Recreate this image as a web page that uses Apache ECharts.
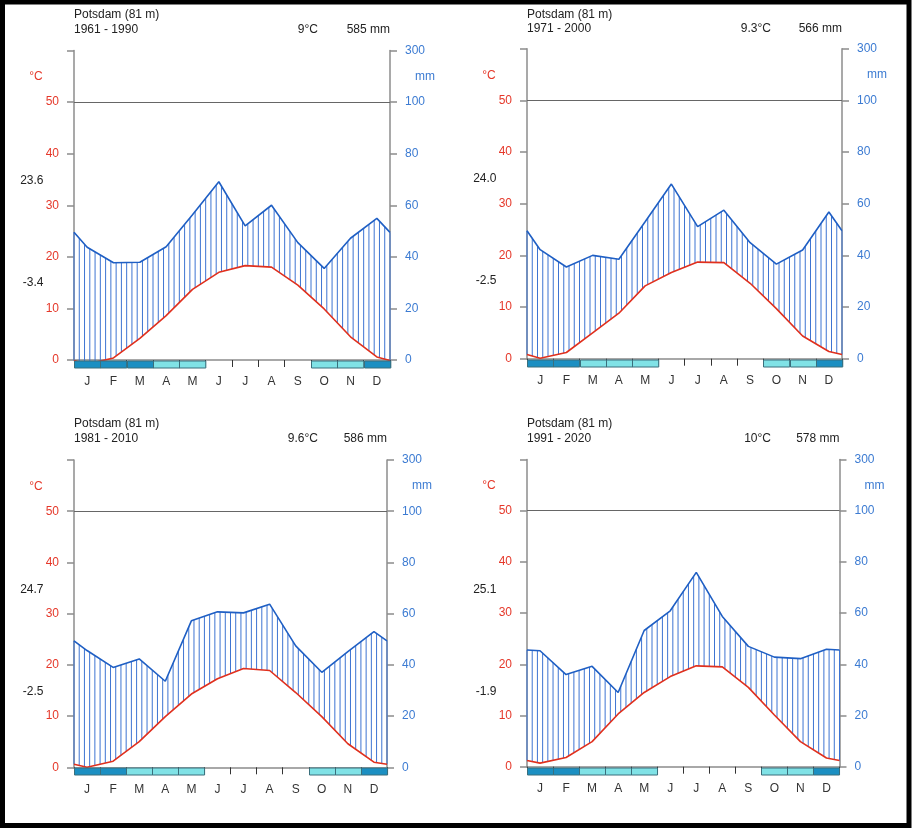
<!DOCTYPE html>
<html>
<head>
<meta charset="utf-8">
<script src="https://cdn.jsdelivr.net/npm/echarts@6/dist/echarts.min.js"></script>
<style>
html,body{margin:0;padding:0;background:#fff;}
#chart{width:912px;height:828px;}
</style>
</head>
<body>
<div id="chart"></div>
<script>
// ---------- data ----------
const months = ['J','F','M','A','M','J','J','A','S','O','N','D'];
const station = 'Potsdam (81 m)';
const periods = ['1961 - 1990','1971 - 2000','1981 - 2010','1991 - 2020'];
const meanTemps = ['9°C','9.3°C','9.6°C','10°C'];
const annualPrec = ['585 mm','566 mm','586 mm','578 mm'];
const maxWarmest = ['23.6','24.0','24.7','25.1'];
const minColdest = ['-3.4','-2.5','-2.5','-1.9'];

const temp6190 = [-0.8, 0.4, 4.2, 8.6, 13.7, 17.0, 18.3, 18.0, 14.5, 9.9, 4.5, 0.6];
const prec6190 = [43.7, 37.7, 37.9, 43.9, 56.3, 69.1, 52.0, 60.0, 45.5, 35.5, 47.2, 54.9];
const temp7100 = [0.1, 1.2, 5.0, 8.8, 14.1, 16.7, 18.7, 18.6, 14.6, 9.7, 4.4, 1.4];
const prec7100 = [42.2, 35.5, 40.0, 38.5, 53.0, 67.6, 51.1, 57.5, 44.9, 36.6, 42.1, 56.8];
const temp8110 = [0.0, 1.2, 5.0, 9.9, 14.3, 17.3, 19.3, 18.9, 14.6, 9.9, 4.6, 1.0];
const prec8110 = [45.6, 39.0, 42.3, 33.6, 57.2, 60.7, 60.3, 63.7, 47.4, 37.1, 45.2, 53.0];
const temp9120 = [0.7, 1.8, 4.9, 10.3, 14.5, 17.6, 19.7, 19.5, 15.5, 10.1, 4.9, 1.7];
const prec9120 = [45.3, 36.0, 39.2, 29.0, 53.2, 60.9, 75.9, 58.7, 47.0, 42.8, 42.2, 45.9];
// values drawn at the left and right edges of each diagram
const tempEdge = [-0.1, 0.8, 0.6, 1.2];
const precEdge = [49.5, 49.5, 49.4, 45.6];
// frost: 2 = dark (cold month), 1 = light (possible frost), 0 = none
const frost6190 = [2,2,2,1,1,0,0,0,0,1,1,2];
const frost7100 = [2,2,1,1,1,0,0,0,0,1,1,2];
const frost8110 = [2,2,1,1,1,0,0,0,0,1,1,2];
const frost9120 = [2,2,1,1,1,0,0,0,0,1,1,2];

// left axis: 0..60 (°C), right axis 0..120 (mm), 120 labelled 300
const tempTicks = ['0','10','20','30','40','50',''];
const precTicks = ['0','20','40','60','80','100','300'];

const temps = [temp6190, temp7100, temp8110, temp9120];
const precs = [prec6190, prec7100, prec8110, prec9120];
const frosts = [frost6190, frost7100, frost8110, frost9120];

// ---------- layout / style ----------
const FONT = "'Liberation Sans', Arial, Helvetica, sans-serif";
const RED = '#e5382a', BLUE = '#3c7bd2', LINEBLUE = '#1f5fc4', TLINE = '#e0301e';
const AXISGRAY = '#8c8c8c';
const grids = [
  {left: 74, top: 50.5, width: 316, height: 309.5},
  {left: 527, top: 48.7, width: 315, height: 310},
  {left: 74, top: 460, width: 313, height: 307.3},
  {left: 527, top: 459.5, width: 312.5, height: 307.2}
];
const titleY = [[14.5, 29.5], [14.5, 28.5], [424, 438.5], [424, 439]];
const LMAX = 60, RMAX = 120;

const chart = echarts.init(document.getElementById('chart'), null, {renderer: 'canvas'});

const option = {
  animation: false,
  textStyle: {fontFamily: FONT},
  grid: [], xAxis: [], yAxis: [], series: [], graphic: []
};

option.graphic.push({
  type: 'rect', shape: {x: 2.5, y: 2, width: 906.5, height: 823.5},
  style: {fill: 'none', stroke: '#000', lineWidth: 5}, z: 100
});

grids.forEach((g, p) => {
  option.grid.push(Object.assign({containLabel: false}, g));
  const xc = 2 * p, xv = 2 * p + 1, yl = 2 * p, yr = 2 * p + 1;
  option.xAxis.push({
    type: 'category', gridIndex: p, data: months, boundaryGap: true, position: 'bottom',
    axisLine: {show: true, lineStyle: {color: AXISGRAY, width: 1.5}},
    axisTick: {show: true, length: 7, lineStyle: {color: '#333', width: 1}},
    axisLabel: {color: '#333', fontSize: 12, margin: 16, fontFamily: FONT},
    splitLine: {show: false}
  });
  option.xAxis.push({type: 'value', gridIndex: p, min: 0, max: 12, show: false});
  option.yAxis.push({
    type: 'value', gridIndex: p, min: 0, max: LMAX, interval: 10, position: 'left',
    axisLine: {show: true, lineStyle: {color: AXISGRAY, width: 1.5}},
    axisTick: {show: true, length: 7, lineStyle: {color: AXISGRAY, width: 1.5}},
    axisLabel: {color: RED, fontSize: 12, margin: 15, fontFamily: FONT,
      formatter: v => tempTicks[Math.round(v / 10)]},
    splitLine: {show: false}
  });
  option.yAxis.push({
    type: 'value', gridIndex: p, min: 0, max: RMAX, interval: 20, position: 'right',
    axisLine: {show: true, lineStyle: {color: AXISGRAY, width: 1.5}},
    axisTick: {show: true, length: 7, lineStyle: {color: AXISGRAY, width: 1.5}},
    axisLabel: {color: BLUE, fontSize: 12, margin: 15, fontFamily: FONT,
      formatter: v => precTicks[Math.round(v / 20)]},
    splitLine: {show: false}
  });

  const T = temps[p], P = precs[p];
  const tLine = [[0, tempEdge[p]]].concat(T.map((v, i) => [i + 0.5, v])).concat([[12, tempEdge[p]]]);
  const pLine = [[0, precEdge[p]]].concat(P.map((v, i) => [i + 0.5, v])).concat([[12, precEdge[p]]]);
  const segs = [];
  for (let i = 0; i < tLine.length - 1; i++) {
    segs.push([tLine[i][0], tLine[i][1], pLine[i][1], tLine[i + 1][0], tLine[i + 1][1], pLine[i + 1][1]]);
  }

  // frost bars
  option.series.push({
    type: 'custom', xAxisIndex: xc, yAxisIndex: yl, z: 5, silent: true,
    data: frosts[p].map((f, i) => [i, f]),
    renderItem: (params, api) => {
      const f = api.value(1);
      if (!f) return null;
      const c = api.coord([api.value(0), 0]);
      const w = api.size([1, 0])[0];
      return {
        type: 'rect',
        shape: {x: Math.round(c[0] - w / 2) + 0.5, y: Math.round(c[1]) + 1, width: w, height: 7},
        style: {fill: f === 2 ? '#1b8fc2' : '#80e2e6', stroke: '#3a6f7c', lineWidth: 1}
      };
    }
  });

  // hatching between precipitation and temperature curves
  option.series.push({
    type: 'custom', xAxisIndex: xv, yAxisIndex: yl, z: 2, silent: true,
    dimensions: ['x0','t0','p0','x1','t1','p1'],
    encode: {x: 0, y: 1},
    data: segs,
    renderItem: (params, api) => {
      const x0 = api.value(0), t0 = api.value(1), p0 = api.value(2);
      const x1 = api.value(3), t1 = api.value(4), p1 = api.value(5);
      const step = 0.2, ratio = LMAX / RMAX;
      const children = [];
      const kStart = Math.ceil(x0 / step - 1e-9);
      const last = x1 >= 12 - 1e-9;
      for (let k = kStart; ; k++) {
        const x = k * step;
        if (last ? x > x1 + 1e-9 : x >= x1 - 1e-9) break;
        const f = (x - x0) / (x1 - x0);
        const t = t0 + f * (t1 - t0), pr = p0 + f * (p1 - p0);
        if (pr * ratio <= t) continue;
        const a = api.coord([x, pr * ratio]);
        const b = api.coord([x, t]);
        children.push({
          type: 'line', shape: {x1: a[0], y1: a[1], x2: a[0], y2: b[1]},
          style: {stroke: '#3d74d2', lineWidth: 1}
        });
      }
      return {type: 'group', children};
    }
  });

  // temperature line
  option.series.push({
    type: 'line', xAxisIndex: xv, yAxisIndex: yl, data: tLine, clip: false, z: 4,
    symbol: 'none', lineStyle: {color: TLINE, width: 1.6}, silent: true,
    markLine: {
      symbol: 'none', silent: true, label: {show: false},
      lineStyle: {color: '#666', type: 'solid', width: 1.2},
      data: [{yAxis: 50}]
    }
  });
  // precipitation line
  option.series.push({
    type: 'line', xAxisIndex: xv, yAxisIndex: yr, data: pLine, clip: false, z: 4,
    symbol: 'none', lineStyle: {color: LINEBLUE, width: 1.6}, silent: true
  });

  // texts
  const L = g.left, R = g.left + g.width, Tp = g.top;
  const txt = (x, y, s, color, align) => ({
    type: 'text', x: x, y: y, z: 50,
    style: {text: s, fill: color, font: '12px ' + FONT, textAlign: align || 'left', textVerticalAlign: 'middle'}
  });
  option.graphic.push(txt(L, titleY[p][0], station, '#222'));
  option.graphic.push(txt(L, titleY[p][1], periods[p], '#222'));
  option.graphic.push(txt(L + 244, titleY[p][1], meanTemps[p], '#222', 'right'));
  option.graphic.push(txt(R, titleY[p][1], annualPrec[p], '#222', 'right'));
  option.graphic.push(txt(L - 38, Tp + 26.5, '°C', RED, 'center'));
  option.graphic.push(txt(R + 35, Tp + 26, 'mm', BLUE, 'center'));
  option.graphic.push(txt(L - 30.5, Tp + 130, maxWarmest[p], '#222', 'right'));
  option.graphic.push(txt(L - 30.5, Tp + 232, minColdest[p], '#222', 'right'));
});

chart.setOption(option);
</script>
</body>
</html>
